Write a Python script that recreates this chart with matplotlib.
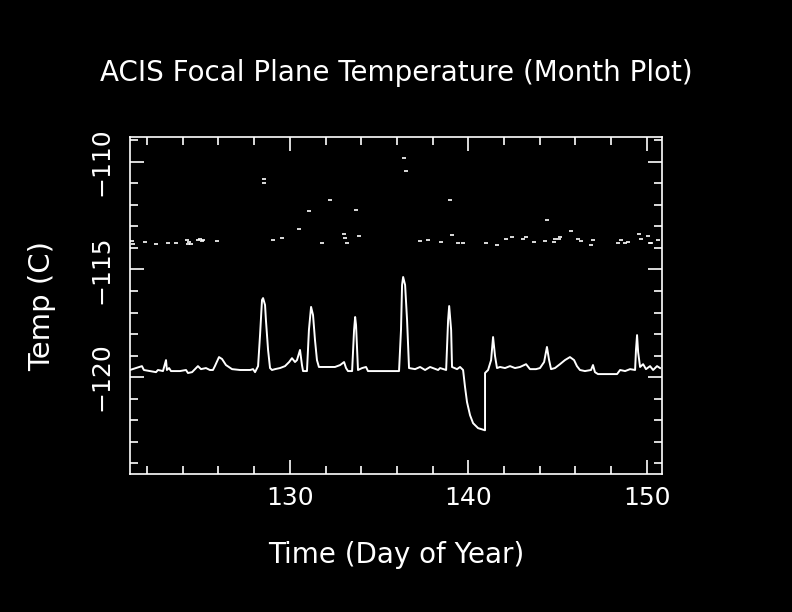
import matplotlib
matplotlib.use("Agg")
import matplotlib.pyplot as plt
from matplotlib.ticker import MultipleLocator

# focal plane temperature trace (day of year, deg C)
line_day = [121.04, 121.38, 121.71, 121.82, 122.16, 122.50, 122.61, 122.89, 123.06, 123.11,
            123.23, 123.34, 123.84, 124.18, 124.29, 124.52, 124.74, 124.85, 125.02, 125.30,
            125.52, 125.69, 125.80, 126.03, 126.20, 126.42, 126.76, 127.21, 127.77, 127.94,
            128.05, 128.22, 128.33, 128.44, 128.50, 128.61, 128.66, 128.78, 128.89, 129.00,
            129.17, 129.45, 129.73, 129.96, 130.12, 130.29, 130.40, 130.57, 130.68, 130.74,
            130.96, 131.07, 131.19, 131.30, 131.41, 131.52, 131.63, 131.97, 132.53, 132.82,
            133.04, 133.15, 133.26, 133.49, 133.60, 133.66, 133.71, 133.82, 134.05, 134.27,
            134.38, 135.34, 136.12, 136.23, 136.29, 136.35, 136.46, 136.57, 136.68, 137.02,
            137.30, 137.58, 137.86, 138.31, 138.42, 138.76, 138.87, 138.93, 139.04, 139.09,
            139.37, 139.54, 139.71, 139.82, 139.93, 140.10, 140.27, 140.55, 140.94, 140.94,
            141.11, 141.28, 141.39, 141.50, 141.61, 141.78, 142.06, 142.34, 142.62, 142.90,
            143.24, 143.46, 143.80, 144.02, 144.25, 144.41, 144.53, 144.64, 144.86, 145.14,
            145.42, 145.70, 145.93, 146.09, 146.26, 146.54, 146.88, 146.99, 147.10, 147.27,
            147.95, 148.34, 148.51, 148.79, 149.07, 149.35, 149.40, 149.46, 149.52, 149.63,
            149.80, 149.96, 150.19, 150.36, 150.58, 150.75]
line_temp = [-119.67, -119.58, -119.49, -119.67, -119.72, -119.77, -119.67, -119.72, -119.21, -119.67,
             -119.58, -119.72, -119.72, -119.67, -119.81, -119.77, -119.58, -119.49, -119.63, -119.58,
             -119.67, -119.67, -119.49, -119.07, -119.16, -119.44, -119.63, -119.67, -119.67, -119.63,
             -119.77, -119.49, -118.05, -116.42, -116.33, -116.65, -117.35, -118.74, -119.58, -119.67,
             -119.63, -119.58, -119.49, -119.30, -119.12, -119.30, -119.21, -118.74, -119.44, -119.72,
             -119.72, -117.81, -116.74, -117.12, -118.28, -119.21, -119.53, -119.53, -119.53, -119.44,
             -119.30, -119.58, -119.72, -119.72, -117.81, -117.21, -117.58, -119.67, -119.58, -119.53,
             -119.72, -119.72, -119.72, -117.81, -115.72, -115.35, -115.72, -117.35, -119.58, -119.63,
             -119.53, -119.67, -119.53, -119.67, -119.58, -119.67, -117.35, -116.70, -117.81, -119.53,
             -119.63, -119.53, -119.67, -120.47, -121.16, -121.77, -122.14, -122.37, -122.47, -119.81,
             -119.67, -119.21, -118.14, -119.02, -119.58, -119.53, -119.58, -119.49, -119.58, -119.53,
             -119.40, -119.63, -119.63, -119.58, -119.30, -118.60, -119.21, -119.63, -119.58, -119.40,
             -119.21, -119.07, -119.21, -119.49, -119.67, -119.72, -119.67, -119.44, -119.77, -119.86,
             -119.86, -119.86, -119.67, -119.72, -119.63, -119.67, -118.74, -118.05, -118.84, -119.53,
             -119.40, -119.63, -119.49, -119.67, -119.49, -119.58]

# scattered outlier readings
pt_day = [121.15, 121.21, 121.88, 122.50, 123.17, 123.62, 124.24, 124.29, 124.35, 124.46,
          124.85, 124.96, 125.08, 125.13, 125.92, 128.55, 128.55, 129.06, 129.56, 130.51,
          131.08, 131.80, 132.25, 133.04, 133.09, 133.20, 133.71, 133.88, 136.40, 136.51,
          137.30, 137.74, 138.47, 138.98, 139.09, 139.43, 139.71, 140.99, 141.61, 142.12,
          142.45, 143.07, 143.24, 143.68, 144.30, 144.41, 144.81, 144.86, 145.09, 145.14,
          145.76, 146.15, 146.32, 146.88, 146.99, 148.39, 148.56, 148.79, 148.95, 149.57,
          149.68, 150.08, 150.19, 150.25, 150.64]
pt_temp = [-113.67, -113.81, -113.72, -113.81, -113.77, -113.77, -113.63, -113.81, -113.72, -113.81,
           -113.63, -113.58, -113.67, -113.63, -113.67, -110.79, -110.98, -113.63, -113.53, -113.12,
           -112.28, -113.77, -111.77, -113.35, -113.53, -113.77, -112.23, -113.44, -109.81, -110.42,
           -113.67, -113.63, -113.72, -111.77, -113.40, -113.77, -113.77, -113.77, -113.86, -113.58,
           -113.49, -113.58, -113.49, -113.72, -113.67, -112.70, -113.72, -113.58, -113.58, -113.49,
           -113.21, -113.58, -113.67, -113.86, -113.63, -113.77, -113.63, -113.77, -113.72, -113.35,
           -113.58, -113.44, -113.77, -113.77, -113.63]

fig = plt.figure(figsize=(7.92, 6.12), dpi=100, facecolor='black')
ax = fig.add_axes([0.1641, 0.2255, 0.6718, 0.5506], facecolor='black')

ax.plot(line_day, line_temp, color='white', linewidth=1.4)
ax.plot(pt_day, pt_temp, linestyle='none', marker='_', color='white',
        markersize=3, markeredgewidth=1.2)

ax.set_xlim(121.04, 150.86)
ax.set_ylim(-124.5, -108.85)

for side in ax.spines.values():
    side.set_color('white')
    side.set_linewidth(1.2)

ax.xaxis.set_major_locator(MultipleLocator(10))
ax.xaxis.set_minor_locator(MultipleLocator(2))
ax.yaxis.set_major_locator(MultipleLocator(5))
ax.yaxis.set_minor_locator(MultipleLocator(1))

ax.tick_params(which='both', direction='in', top=True, right=True, colors='white', width=1.2)
ax.tick_params(which='major', length=10)
ax.tick_params(which='minor', length=6)
ax.tick_params(axis='x', which='major', labelsize=18, pad=9)
ax.tick_params(axis='y', which='major', labelsize=18, pad=12)
for lab in ax.get_yticklabels():
    lab.set_rotation(90)
    lab.set_va('center')

ax.set_title('ACIS Focal Plane Temperature (Month Plot)', color='white', fontsize=20, pad=40)
ax.set_xlabel('Time (Day of Year)', color='white', fontsize=20, labelpad=22)
ax.set_ylabel('Temp (C)', color='white', fontsize=21, labelpad=24)

fig.savefig('out.png', dpi=100, facecolor='black')
